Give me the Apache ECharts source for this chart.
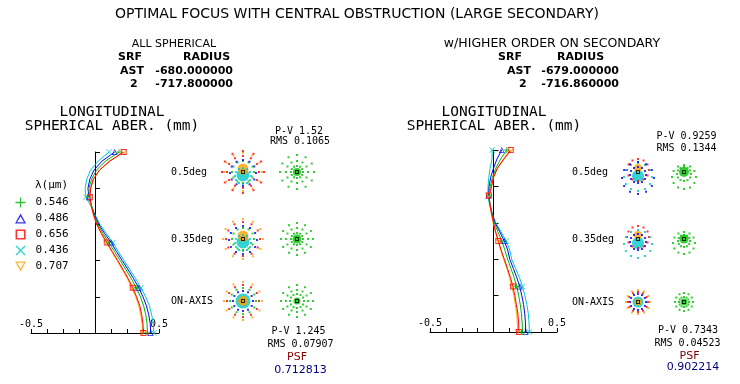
<!DOCTYPE html>
<html><head><meta charset="utf-8">
<script src="https://cdn.jsdelivr.net/npm/echarts@6/dist/echarts.min.js"></script>
<style>html,body{margin:0;padding:0;background:#fff}#c{width:740px;height:384px}</style>
</head><body><div id="c"></div><script>
// ---------------- data ----------------
const titleText = 'OPTIMAL FOCUS WITH CENTRAL OBSTRUCTION (LARGE SECONDARY)';
const panelNames = ['ALL SPHERICAL', 'w/HIGHER ORDER ON SECONDARY'];
const surfCols = ['SRF', 'RADIUS'];
const surfIds = ['AST', '2'];
const radiiLeft = ['-680.000000', '-717.800000'];
const radiiRight = ['-679.000000', '-716.860000'];
const aberTitle = ['LONGITUDINAL', 'SPHERICAL ABER. (mm)'];
const legendTitle = 'λ(μm)';
const wavelengths = ['0.546', '0.486', '0.656', '0.436', '0.707'];
const fieldLabels = ['0.5deg', '0.35deg', 'ON-AXIS'];
const pvTop = ['1.52', '0.9259'];
const rmsTop = ['0.1065', '0.1344'];
const pvBottom = ['1.245', '0.7343'];
const rmsBottom = ['0.07907', '0.04523'];
const psfValues = ['0.712813', '0.902214'];
const xTickLabels = ['-0.5', '0.5'];

// normalized pupil height
const pupil = [0,0.05,0.1,0.15,0.2,0.25,0.3,0.35,0.4,0.45,0.5,0.55,0.6,0.65,0.7,0.75,0.8,0.85,0.9,0.95,1.0];
// longitudinal aberration (mm), left panel
const leftG = [0.41,0.407,0.397,0.38,0.355,0.322,0.284,0.242,0.198,0.152,0.108,0.062,0.022,-0.006,-0.026,-0.044,-0.047,-0.026,0.012,0.082,0.188];
const leftB = [0.435,0.432,0.42,0.402,0.375,0.341,0.302,0.258,0.213,0.168,0.125,0.075,0.03,-0.002,-0.026,-0.048,-0.055,-0.04,-0.008,0.055,0.154];
const leftR = [0.378,0.375,0.365,0.35,0.325,0.295,0.26,0.22,0.178,0.135,0.092,0.05,0.015,-0.01,-0.028,-0.04,-0.034,-0.012,0.035,0.115,0.224];
const leftC = [0.46,0.456,0.443,0.425,0.396,0.358,0.318,0.272,0.227,0.182,0.14,0.088,0.04,0.003,-0.03,-0.07,-0.077,-0.064,-0.035,0.025,0.11];
const leftO = [0.37,0.368,0.358,0.342,0.318,0.288,0.253,0.213,0.172,0.13,0.087,0.047,0.013,-0.012,-0.03,-0.042,-0.036,-0.014,0.035,0.118,0.226];
// right panel
const rightG = [0.228,0.226,0.22,0.211,0.198,0.183,0.162,0.137,0.111,0.09,0.065,0.035,0.006,-0.012,-0.027,-0.035,-0.025,-0.008,0.018,0.056,0.104];
const rightB = [0.254,0.252,0.246,0.237,0.223,0.206,0.183,0.156,0.128,0.112,0.085,0.05,0.012,-0.01,-0.028,-0.038,-0.035,-0.022,0.0,0.027,0.065];
const rightR = [0.2,0.198,0.192,0.18,0.168,0.153,0.133,0.11,0.085,0.06,0.038,0.017,0.0,-0.015,-0.028,-0.035,-0.015,0.0,0.03,0.08,0.135];
const rightC = [0.283,0.28,0.274,0.263,0.247,0.228,0.204,0.173,0.143,0.128,0.1,0.06,0.018,-0.01,-0.032,-0.045,-0.043,-0.037,-0.027,-0.012,-0.01];
const rightO = [0.19,0.188,0.183,0.172,0.16,0.146,0.127,0.104,0.08,0.057,0.036,0.015,-0.002,-0.017,-0.03,-0.037,-0.017,0.0,0.032,0.085,0.14];
const markerPupil = [0, 0.25, 0.5, 0.75, 1.0];

// spot diagrams (µm): rings of ray intercepts [radius, colourIndex, yShift, dotSize]
const spokeAngles = [0,30,60,90,120,150,180,210,240,270,300,330];
const spotL05P = [[0,3,-3,13],[0,4,3,11],[8,3,-4,2],[11,0,0,2],[13,1,-1,2],[16,2,0,2],[19,4,0,2],[21,2,0,2]];
const spotL05M = [[0,0,0,8],[6,0,0,2],[11,0,0,2],[17,0,0,2]];
const spotL035P = [[0,3,-3,13],[0,4,3,11],[8,3,-4,2],[11,0,0,2],[14,1,-1,2],[17,2,0,2],[20,4,0,2]];
const spotL035M = [[0,0,0,9],[6,0,0,2],[11,0,0,2],[16,0,0,2]];
const spotLONP = [[0,3,0,15],[0,4,0,10],[10,1,0,2],[13,0,0,2],[16,2,0,2],[19,4,0,2]];
const spotLONM = [[0,0,0,7],[7,0,0,2],[11,0,0,2],[16,0,0,2]];
const spotR05P = [[0,3,-4,12],[0,4,4,8],[8,1,-3,2],[11,2,2,2],[14,3,-5,2],[16,1,-6,2]];
const spotR05M = [[0,0,0,10],[7,0,-2,2],[12,0,-5,2]];
const spotR035P = [[0,3,-4,12],[0,4,4,8],[8,1,-3,2],[11,2,2,2],[14,3,-5,2]];
const spotR035M = [[0,0,0,9],[6,0,-2,2],[11,0,-4,2]];
const spotRONP = [[0,3,0,11],[0,4,0,7],[8,1,0,2],[10,2,0,2],[12,4,0,2]];
const spotRONM = [[0,0,0,7],[5,0,0,2],[9,0,0,2]];

// ---------------- styling / layout ----------------
const MONO = '"DejaVu Sans Mono", monospace';
const SANS = '"DejaVu Sans", sans-serif';
const waveColors = ['#00b400', '#0000ff', '#ff0000', '#00c8c8', '#ffa500'];
const spotColors = ['#00c000', '#0000ff', '#ff0000', '#00c8c8', '#ffa000', '#000000'];
const waveSymbols = [
  'path://M4.3,0H5.7V10H4.3Z M0,4.3H10V5.7H0Z',
  'path://M5,0L10,9L0,9Z M5,2.6L1.9,7.8L8.1,7.8Z',
  'path://M0,0H10V10H0Z M1.6,1.6V8.4H8.4V1.6Z',
  'path://M0,1L1,0L5,4L9,0L10,1L6,5L10,9L9,10L5,6L1,10L0,9L4,5Z',
  'path://M0,0H10L5,9Z M1.9,1.2L5,6.4L8.1,1.2Z'
];
const centerMark = 'path://M0,0H10V10H0Z M2.5,2.5V7.5H7.5V2.5Z';

const grids = [], xAxes = [], yAxes = [], series = [];

function addAberPlot(box, curves, namePrefix, useLegendNames) {
  const g = grids.length;
  grids.push(box);
  xAxes.push({
    gridIndex: g, type: 'value', min: -0.5, max: 0.5, interval: 0.125,
    axisLine: { onZero: false, lineStyle: { color: '#000', width: 1 } },
    axisTick: { inside: true, length: 4, lineStyle: { color: '#000' } },
    axisLabel: { inside: true, margin: 4, fontFamily: MONO, fontSize: 10, color: '#000',
      showMinLabel: true, showMaxLabel: true,
      formatter: v => Math.abs(v + 0.5) < 1e-9 ? xTickLabels[0] : (Math.abs(v - 0.5) < 1e-9 ? xTickLabels[1] : '') },
    splitLine: { show: false }
  });
  yAxes.push({
    gridIndex: g, type: 'value', min: 0, max: 1, interval: 0.2,
    axisLine: { onZero: true, lineStyle: { color: '#000', width: 1 } },
    axisTick: { inside: true, length: 5, lineStyle: { color: '#000' } },
    axisLabel: { show: false }, splitLine: { show: false }
  });
  const order = [3, 1, 0, 4, 2];
  order.forEach(i => {
    series.push({
      type: 'line', xAxisIndex: g, yAxisIndex: g, showSymbol: false, silent: true,
      data: curves[i].map((v, k) => [v, pupil[k]]),
      lineStyle: { width: 1, color: waveColors[i] }, z: 2
    });
  });
  order.forEach(i => {
    series.push({
      type: 'scatter', name: useLegendNames ? wavelengths[i] : namePrefix + wavelengths[i],
      xAxisIndex: g, yAxisIndex: g, symbol: waveSymbols[i], symbolSize: 6,
      itemStyle: { color: waveColors[i] }, z: 3,
      data: curves[i].map((v, k) => [v, pupil[k]]).filter(p => markerPupil.indexOf(p[1]) >= 0)
    });
  });
}

addAberPlot({ left: 31, top: 152, width: 128, height: 181 }, [leftG, leftB, leftR, leftC, leftO], 'L', true);
addAberPlot({ left: 430, top: 150, width: 127, height: 182 }, [rightG, rightB, rightR, rightC, rightO], 'R', false);

function addSpot(cx, cy, rings) {
  const g = grids.length;
  grids.push({ left: cx - 30, top: cy - 30, width: 60, height: 60 });
  xAxes.push({ gridIndex: g, type: 'value', min: -30, max: 30, show: false });
  yAxes.push({ gridIndex: g, type: 'value', min: -30, max: 30, show: false });
  const data = [];
  rings.forEach(([r, ci, dy, sz]) => {
    if (r === 0) {
      data.push({ value: [0, dy], symbol: 'circle', symbolSize: sz, itemStyle: { color: spotColors[ci] } });
    } else {
      spokeAngles.forEach(a => {
        const t = a * Math.PI / 180;
        data.push({ value: [r * Math.cos(t), r * Math.sin(t) + dy], symbol: 'rect', symbolSize: sz, itemStyle: { color: spotColors[ci] } });
      });
    }
  });
  data.push({ value: [0, 0], symbol: centerMark, symbolSize: 4, itemStyle: { color: '#000' } });
  series.push({ type: 'scatter', xAxisIndex: g, yAxisIndex: g, data, silent: true, clip: false, z: 4 });
}
addSpot(243, 172, spotL05P); addSpot(297, 172, spotL05M);
addSpot(243, 239, spotL035P); addSpot(297, 239, spotL035M);
addSpot(243, 301, spotLONP); addSpot(297, 301, spotLONM);
addSpot(638, 172, spotR05P); addSpot(684, 172, spotR05M);
addSpot(638, 239, spotR035P); addSpot(684, 239, spotR035M);
addSpot(638, 302, spotRONP); addSpot(684, 302, spotRONM);

function T(x, y, text, font, align, color) {
  return { type: 'text', x, y, silent: true,
    style: { text, font, fill: color || '#000', align: align || 'center', verticalAlign: 'middle' } };
}
const hdrFont = 'bold 11px ' + SANS;
const g = [];
g.push(T(357, 14, titleText, '14px ' + SANS));
g.push(T(174, 44, panelNames[0], '11px ' + SANS));
g.push(T(118, 57, surfCols[0], hdrFont, 'left'));
g.push(T(183, 57, surfCols[1], hdrFont, 'left'));
g.push(T(120, 71, surfIds[0], hdrFont, 'left'));
g.push(T(233, 71, radiiLeft[0], hdrFont, 'right'));
g.push(T(130, 84, surfIds[1], hdrFont, 'left'));
g.push(T(233, 84, radiiLeft[1], hdrFont, 'right'));
g.push(T(552, 44, panelNames[1], '12.5px ' + SANS));
g.push(T(498, 57, surfCols[0], hdrFont, 'left'));
g.push(T(557, 57, surfCols[1], hdrFont, 'left'));
g.push(T(507, 71, surfIds[0], hdrFont, 'left'));
g.push(T(619, 71, radiiRight[0], hdrFont, 'right'));
g.push(T(519, 84, surfIds[1], hdrFont, 'left'));
g.push(T(619, 84, radiiRight[1], hdrFont, 'right'));
g.push(T(112, 112, aberTitle[0], '14.5px ' + MONO));
g.push(T(112, 126.5, aberTitle[1], '14.5px ' + MONO));
g.push(T(494, 112, aberTitle[0], '14.5px ' + MONO));
g.push(T(494, 126.5, aberTitle[1], '14.5px ' + MONO));
g.push(T(35, 185, legendTitle, '11px ' + MONO, 'left'));
g.push(T(299, 131, 'P-V ' + pvTop[0], '10px ' + MONO));
g.push(T(300, 141.5, 'RMS ' + rmsTop[0], '10px ' + MONO));
g.push(T(298.5, 331, 'P-V ' + pvBottom[0], '10px ' + MONO));
g.push(T(300.5, 344, 'RMS ' + rmsBottom[0], '10px ' + MONO));
g.push(T(297, 357.5, 'PSF', '11px ' + SANS, 'center', '#800000'));
g.push(T(300.5, 370, psfValues[0], '11px ' + SANS, 'center', '#000080'));
g.push(T(686.5, 136, 'P-V ' + pvTop[1], '10px ' + MONO));
g.push(T(686.5, 148, 'RMS ' + rmsTop[1], '10px ' + MONO));
g.push(T(688, 330, 'P-V ' + pvBottom[1], '10px ' + MONO));
g.push(T(687.5, 343, 'RMS ' + rmsBottom[1], '10px ' + MONO));
g.push(T(689.5, 356, 'PSF', '11px ' + SANS, 'center', '#800000'));
g.push(T(693, 367.5, psfValues[1], '11px ' + SANS, 'center', '#000080'));
[172, 239, 301].forEach((y, i) => g.push(T(171, y, fieldLabels[i], '10px ' + MONO, 'left')));
[172, 239, 302].forEach((y, i) => g.push(T(572, y, fieldLabels[i], '10px ' + MONO, 'left')));

const chart = echarts.init(document.getElementById('c'), null, { renderer: 'canvas' });
chart.setOption({
  animation: false,
  backgroundColor: '#fff',
  grid: grids,
  xAxis: xAxes,
  yAxis: yAxes,
  legend: {
    orient: 'vertical', left: 10, top: 192, itemWidth: 20, itemHeight: 10, itemGap: 5,
    selectedMode: false,
    data: wavelengths.map((w, i) => ({ name: w, icon: waveSymbols[i] })),
    textStyle: { fontFamily: MONO, fontSize: 11, color: '#000', lineHeight: 10 }
  },
  series,
  graphic: g
});
</script></body></html>
